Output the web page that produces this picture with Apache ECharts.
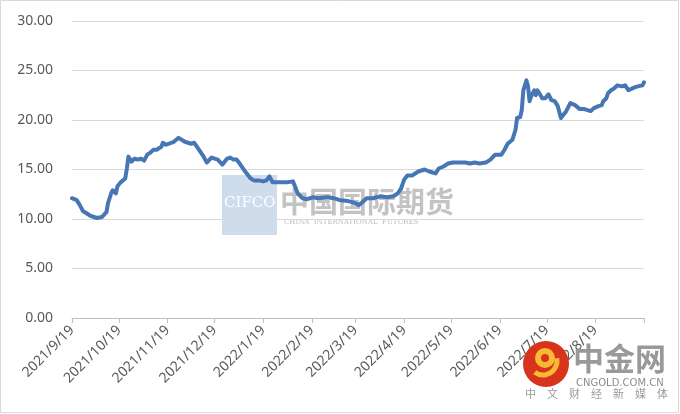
<!DOCTYPE html>
<html>
<head>
<meta charset="utf-8">
<script src="https://cdn.jsdelivr.net/npm/echarts@6/dist/echarts.min.js"></script>
<style>
  html, body { margin: 0; padding: 0; background: #fff; }
  #chart { width: 680px; height: 414px; }
</style>
</head>
<body>
<div id="chart"></div>
<script>
// 日期 / 数值
const dates = [
  '2021/9/19', '2021/9/22', '2021/9/24', '2021/9/26', '2021/9/28', '2021/10/1', '2021/10/5', '2021/10/6',
  '2021/10/8', '2021/10/11', '2021/10/12', '2021/10/14', '2021/10/15', '2021/10/17', '2021/10/18', '2021/10/20',
  '2021/10/23', '2021/10/24', '2021/10/25', '2021/10/26', '2021/10/27', '2021/10/29', '2021/10/31', '2021/11/2',
  '2021/11/4', '2021/11/6', '2021/11/8', '2021/11/10', '2021/11/12', '2021/11/15', '2021/11/16', '2021/11/18',
  '2021/11/19', '2021/11/23', '2021/11/26', '2021/11/30', '2021/12/4', '2021/12/6', '2021/12/9', '2021/12/12',
  '2021/12/14', '2021/12/17', '2021/12/19', '2021/12/21', '2021/12/24', '2021/12/25', '2021/12/27', '2021/12/29',
  '2021/12/31', '2022/1/2', '2022/1/4', '2022/1/7', '2022/1/11', '2022/1/13', '2022/1/16', '2022/1/19',
  '2022/1/21', '2022/1/23', '2022/1/25', '2022/1/29', '2022/2/3', '2022/2/7', '2022/2/8', '2022/2/10',
  '2022/2/13', '2022/2/16', '2022/2/20', '2022/2/23', '2022/3/1', '2022/3/5', '2022/3/9', '2022/3/13',
  '2022/3/18', '2022/3/21', '2022/3/23', '2022/3/26', '2022/3/30', '2022/4/4', '2022/4/8', '2022/4/12',
  '2022/4/15', '2022/4/17', '2022/4/19', '2022/4/21', '2022/4/24', '2022/4/26', '2022/4/28', '2022/5/2',
  '2022/5/5', '2022/5/9', '2022/5/11', '2022/5/14', '2022/5/17', '2022/5/20', '2022/5/25', '2022/5/28',
  '2022/5/31', '2022/6/3', '2022/6/6', '2022/6/10', '2022/6/13', '2022/6/16', '2022/6/20', '2022/6/22',
  '2022/6/24', '2022/6/27', '2022/6/29', '2022/6/30', '2022/7/2', '2022/7/3', '2022/7/4', '2022/7/6',
  '2022/7/7', '2022/7/8', '2022/7/9', '2022/7/11', '2022/7/12', '2022/7/13', '2022/7/15', '2022/7/16',
  '2022/7/18', '2022/7/20', '2022/7/22', '2022/7/24', '2022/7/26', '2022/7/28', '2022/7/31', '2022/8/3',
  '2022/8/6', '2022/8/9', '2022/8/12', '2022/8/16', '2022/8/18', '2022/8/21', '2022/8/23', '2022/8/24',
  '2022/8/26', '2022/8/27', '2022/8/29', '2022/8/31', '2022/9/2', '2022/9/3', '2022/9/5', '2022/9/7',
  '2022/9/9', '2022/9/10', '2022/9/13', '2022/9/15', '2022/9/18', '2022/9/19'
]
const values = [
  12.1, 11.9, 11.4, 10.8, 10.6, 10.3, 10.1, 9.97,
  10.2, 10.7, 11.6, 12.6, 12.9, 12.6, 13.3, 13.7,
  14.1, 15.1, 16.3, 16.5, 15.8, 16.1, 16.0, 16.1,
  15.9, 16.5, 16.7, 17.0, 17.0, 17.3, 17.7, 17.5,
  17.4, 17.8, 18.2, 17.8, 17.6, 17.7, 17.0, 16.3,
  15.7, 16.2, 16.1, 16.0, 15.5, 15.5, 16.1, 16.2,
  16.0, 16.0, 15.6, 14.9, 14.1, 13.9, 13.9, 13.8,
  13.9, 14.3, 13.7, 13.7, 13.7, 13.8, 13.4, 12.6,
  12.1, 12.0, 12.2, 12.1, 12.2, 12.1, 11.9, 11.85,
  11.65, 11.4, 11.65, 12.1, 12.1, 12.3, 12.2, 12.3,
  12.6, 13.1, 14.0, 14.4, 14.4, 14.6, 14.8, 15.0,
  14.8, 14.6, 15.1, 15.3, 15.6, 15.7, 15.7, 15.7,
  15.6, 15.7, 15.6, 15.7, 16.0, 16.5, 16.5, 17.0,
  17.6, 18.0, 19.0, 20.2, 20.3, 21.0, 23.0, 24.0,
  23.4, 21.9, 22.4, 23.0, 22.5, 23.0, 22.5, 22.2,
  22.2, 22.6, 22.0, 21.9, 21.4, 20.2, 20.8, 21.7,
  21.5, 21.1, 21.1, 20.9, 21.2, 21.4, 21.5, 21.9,
  22.2, 22.7, 23.0, 23.2, 23.5, 23.7, 23.4, 23.5,
  23.0, 23.0, 23.3, 23.4, 23.5, 23.8
]
// 刻度（每月19日）
const tickDates = [
  '2021/9/19', '2021/10/19', '2021/11/19', '2021/12/19', '2022/1/19', '2022/2/19', '2022/3/19',
  '2022/4/19', '2022/5/19', '2022/6/19', '2022/7/19', '2022/8/19', '2022/9/19'
]
const labelDates = tickDates.slice(0, 12)
const yTicks = [0, 5, 10, 15, 20, 25, 30]

// 日期 -> 距起始日天数
const DAY = 86400000
function dayNum (s) {
  const p = s.split('/').map(Number)
  return Math.round(Date.UTC(p[0], p[1] - 1, p[2]) / DAY)
}
const day0 = dayNum(tickDates[0])
function offset (s) { return dayNum(s) - day0 }
function fmtOffset (v) {
  const d = new Date((day0 + Math.round(v)) * DAY)
  return d.getUTCFullYear() + '/' + (d.getUTCMonth() + 1) + '/' + d.getUTCDate()
}

const chart = echarts.init(document.getElementById('chart'))
const option = {
  animation: false,
  backgroundColor: '#fff',
  grid: {
    left: 72,
    right: 36,
    top: 21,
    bottom: 96
  },
  xAxis: {
    type: 'value',
    min: 0,
    max: offset(tickDates[tickDates.length - 1]),
    axisLine: { show: true, onZero: false, lineStyle: { color: '#bfbfbf', width: 1 } },
    axisTick: {
      show: true,
      length: 5,
      customValues: tickDates.map(offset),
      lineStyle: { color: '#bfbfbf' }
    },
    axisLabel: {
      rotate: 45,
      margin: 10,
      color: '#595959',
      fontSize: 14,
      fontFamily: 'Noto Sans',
      customValues: labelDates.map(offset),
      formatter: function (v) { return fmtOffset(v) }
    },
    splitLine: { show: false }
  },
  yAxis: {
    type: 'value',
    min: yTicks[0],
    max: yTicks[yTicks.length - 1],
    interval: 5,
    axisLine: { show: false },
    axisTick: { show: false },
    axisLabel: {
      margin: 19,
      color: '#595959',
      fontSize: 14,
      fontFamily: 'Noto Sans',
      formatter: function (v) { return v.toFixed(2) }
    },
    splitLine: { lineStyle: { color: '#d9d9d9', width: 1 } }
  },
  graphic: [
    // 外框
    { type: 'rect', z: 0, silent: true, shape: { x: 0.5, y: 0.5, width: 678, height: 412 }, style: { fill: 'none', stroke: '#d9d9d9', lineWidth: 1 } },
    // 水印 CIFCO
    { type: 'rect', z: -1, silent: true, shape: { x: 222, y: 175, width: 55, height: 60 }, style: { fill: 'rgba(190,208,230,0.75)' } },
    { type: 'text', z: -1, silent: true, left: 224, top: 196, style: { text: 'CIFCO', fill: '#ffffff', font: '15px "DejaVu Serif"' } },
    { type: 'text', z: -1, silent: true, left: 280, top: 187, style: { text: '中国国际期货', fill: 'rgba(170,170,170,0.7)', font: 'bold 29px "Noto Sans CJK SC"' } },
    { type: 'text', z: -1, silent: true, left: 284, top: 219, style: { text: 'CHINA  INTERNATIONAL  FUTURES', fill: 'rgba(170,170,170,0.8)', font: '7px "DejaVu Serif"' } },
    // 水印 中金网
    { type: 'circle', z: 10, silent: true, shape: { cx: 546, cy: 364, r: 23 }, style: { fill: '#d8341c' } },
    { type: 'circle', z: 10, silent: true, shape: { cx: 545, cy: 358, r: 7 }, style: { fill: 'none', stroke: '#f8b935', lineWidth: 6 } },
    { type: 'arc', z: 10, silent: true, shape: { cx: 543, cy: 361, r: 14, startAngle: -0.2, endAngle: 2.2 }, style: { fill: 'none', stroke: '#f8b935', lineWidth: 5 } },
    { type: 'text', z: 10, silent: true, left: 573, top: 343, style: { text: '中金网', fill: '#999999', font: 'bold 31px "Noto Sans CJK SC"' } },
    { type: 'text', z: 10, silent: true, left: 576, top: 378, style: { text: 'CNGOLD.COM.CN', fill: '#8c8c8c', font: '10px "DejaVu Sans"' } },
    { type: 'text', z: 10, silent: true, left: 525, top: 388, style: { text: '中\u2002\u2002文\u2002\u2002财\u2002\u2002经\u2002\u2002新\u2002\u2002媒\u2002\u2002体', fill: '#9a9a9a', font: '11px "Noto Sans CJK SC"' } }
  ],
  series: [
    {
      type: 'line',
      data: dates.map(function (d, i) { return [offset(d), values[i]] }),
      showSymbol: false,
      lineStyle: { color: '#4676b4', width: 4, join: 'round', cap: 'round' },
      itemStyle: { color: '#4676b4' },
      z: 3
    }
  ]
}
chart.setOption(option)
</script>
</body>
</html>
